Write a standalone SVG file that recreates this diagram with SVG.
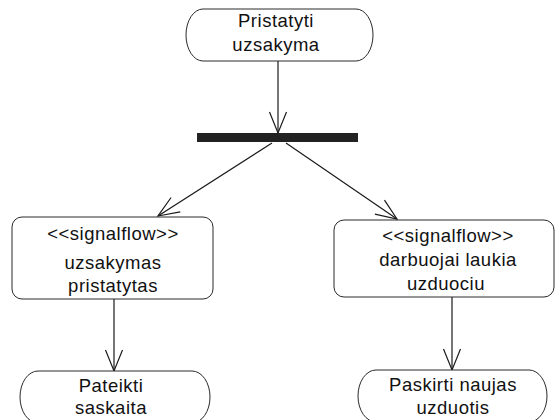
<svg xmlns="http://www.w3.org/2000/svg" width="560" height="420" viewBox="0 0 560 420">
  <style>
    .node { fill: #ffffff; stroke: #2a2a2a; stroke-width: 1; }
    .label { font-family: "Liberation Sans", Arial, sans-serif; font-size: 18.5px; letter-spacing: 0.5px; fill: #111111; text-anchor: middle; }
    .flow { fill: none; stroke: #1a1a1a; stroke-width: 1.2; marker-end: url(#open-arrow); }
  </style>
  <defs>
    <marker id="open-arrow" markerUnits="userSpaceOnUse" markerWidth="30" markerHeight="30" viewBox="-25 -12 30 24" refX="0" refY="0" orient="auto">
      <path d="M-21,-8.5 L0,0 L-21,8.5" fill="none" stroke="#1a1a1a" stroke-width="1.2"/>
    </marker>
  </defs>
  <rect width="560" height="420" fill="#ffffff"/>

  <!-- connectors -->
  <g id="connectors">
    <line class="flow" x1="278" y1="61" x2="278" y2="133"/>
    <line class="flow" x1="272" y1="143" x2="158" y2="216"/>
    <line class="flow" x1="286" y1="143" x2="397" y2="219"/>
    <line class="flow" x1="114" y1="299" x2="114" y2="371"/>
    <line class="flow" x1="452" y1="297" x2="452" y2="370"/>
  </g>

  <!-- start action -->
  <g id="pristatyti-uzsakyma">
    <rect class="node" x="186" y="9" width="187" height="52" rx="17" ry="26"/>
    <text class="label" x="276" y="27">Pristatyti</text>
    <text class="label" x="276" y="51">uzsakyma</text>
  </g>

  <!-- fork bar -->
  <g id="fork">
    <rect x="197" y="133" width="161" height="9" fill="#222222"/>
  </g>

  <!-- signal states -->
  <g id="uzsakymas-pristatytas">
    <rect class="node" x="12" y="217" width="201" height="82" rx="10" ry="10"/>
    <text class="label" x="113" y="240">&lt;&lt;signalflow&gt;&gt;</text>
    <text class="label" x="113" y="269">uzsakymas</text>
    <text class="label" x="113" y="292">pristatytas</text>
  </g>

  <g id="darbuojai-laukia-uzduociu">
    <rect class="node" x="334" y="220" width="220" height="77" rx="10" ry="10"/>
    <text class="label" x="448" y="242">&lt;&lt;signalflow&gt;&gt;</text>
    <text class="label" x="448" y="266">darbuojai laukia</text>
    <text class="label" x="446" y="290">uzduociu</text>
  </g>

  <!-- end actions -->
  <g id="pateikti-saskaita">
    <rect class="node" x="20" y="371" width="190" height="52" rx="18" ry="26"/>
    <text class="label" x="111" y="392">Pateikti</text>
    <text class="label" x="111" y="414">saskaita</text>
  </g>

  <g id="paskirti-naujas-uzduotis">
    <rect class="node" x="358" y="370" width="189" height="52" rx="18" ry="26"/>
    <text class="label" x="453" y="391">Paskirti naujas</text>
    <text class="label" x="453" y="414">uzduotis</text>
  </g>
</svg>
